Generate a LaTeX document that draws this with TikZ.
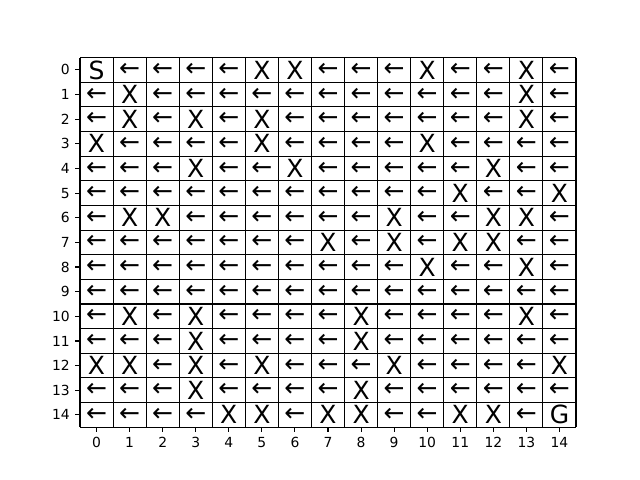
\documentclass[tikz,border=0pt]{standalone}
\usepackage{fontspec}
\setmainfont{DejaVu Sans}
\usepackage{tikz}
\usetikzlibrary{calc,positioning}

\newcommand{\larr}{←}

\tikzset{
  cell/.style={inner sep=0pt, font=\fontsize{18}{18}\selectfont},
  ticklabel/.style={inner sep=0pt, font=\fontsize{10}{10}\selectfont},
  gridline/.style={line width=0.8pt, black},
  tickmark/.style={line width=0.8pt, black},
}

\begin{document}
\begin{tikzpicture}[x=23.808pt, y=-17.7408pt]
  \useasboundingbox (-2.4194,-2.3377) rectangle (16.9355,17.1429);
  % --- grid ---
  \foreach \i in {0,...,15}{
    \draw[gridline] (\i,0) -- (\i,15);
    \draw[gridline] (0,\i) -- (15,\i);
  }
  % --- cells ---
  \foreach \row [count=\r from 0] in {
    {S,\larr,\larr,\larr,\larr,X,X,\larr,\larr,\larr,X,\larr,\larr,X,\larr},
    {\larr,X,\larr,\larr,\larr,\larr,\larr,\larr,\larr,\larr,\larr,\larr,\larr,X,\larr},
    {\larr,X,\larr,X,\larr,X,\larr,\larr,\larr,\larr,\larr,\larr,\larr,X,\larr},
    {X,\larr,\larr,\larr,\larr,X,\larr,\larr,\larr,\larr,X,\larr,\larr,\larr,\larr},
    {\larr,\larr,\larr,X,\larr,\larr,X,\larr,\larr,\larr,\larr,\larr,X,\larr,\larr},
    {\larr,\larr,\larr,\larr,\larr,\larr,\larr,\larr,\larr,\larr,\larr,X,\larr,\larr,X},
    {\larr,X,X,\larr,\larr,\larr,\larr,\larr,\larr,X,\larr,\larr,X,X,\larr},
    {\larr,\larr,\larr,\larr,\larr,\larr,\larr,X,\larr,X,\larr,X,X,\larr,\larr},
    {\larr,\larr,\larr,\larr,\larr,\larr,\larr,\larr,\larr,\larr,X,\larr,\larr,X,\larr},
    {\larr,\larr,\larr,\larr,\larr,\larr,\larr,\larr,\larr,\larr,\larr,\larr,\larr,\larr,\larr},
    {\larr,X,\larr,X,\larr,\larr,\larr,\larr,X,\larr,\larr,\larr,\larr,X,\larr},
    {\larr,\larr,\larr,X,\larr,\larr,\larr,\larr,X,\larr,\larr,\larr,\larr,\larr,\larr},
    {X,X,\larr,X,\larr,X,\larr,\larr,\larr,X,\larr,\larr,\larr,\larr,X},
    {\larr,\larr,\larr,X,\larr,\larr,\larr,\larr,X,\larr,\larr,\larr,\larr,\larr,\larr},
    {\larr,\larr,\larr,\larr,X,X,\larr,X,X,\larr,\larr,X,X,\larr,G}}{
    \foreach \s [count=\c from 0] in \row {
      \node[cell] (c-\r-\c) at (\c+0.5,\r+0.5) {\s};
    }
  }
  % --- ticks ---
  \foreach \i in {0,...,14}{
    \draw[tickmark] (\i+0.5,15) -- ++(0,-3.5pt)
      node[ticklabel, anchor=north, yshift=-3.5pt] (xl-\i) {\i};
    \draw[tickmark] (0,\i+0.5) -- ++(-3.5pt,0)
      node[ticklabel, anchor=east, xshift=-3.5pt] (yl-\i) {\i};
  }
\end{tikzpicture}
\end{document}
